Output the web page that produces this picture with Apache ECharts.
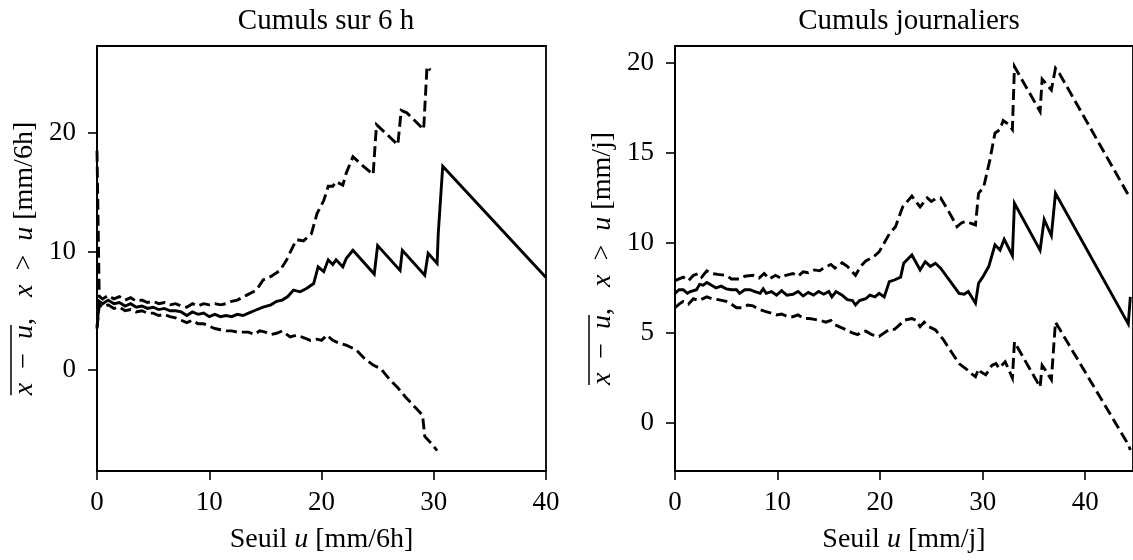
<!DOCTYPE html>
<html>
<head>
<meta charset="utf-8">
<script src="https://cdn.jsdelivr.net/npm/echarts@6/dist/echarts.min.js"></script>
<style>
html,body{margin:0;padding:0;background:#fff;}
#chart{width:1133px;height:560px;}
</style>
</head>
<body>
<div id="chart"></div>
<script>
// ---- Data: Cumuls sur 6 h (threshold u, mean excess) ----
const sixhMean = [[0,3.6],[0.2,5.8],[0.5,5.6],[1,5.9],[1.5,5.6],[2,5.7],[2.5,5.4],[3,5.6],[3.5,5.3],[4,5.4],[4.5,5.2],[5,5.3],[5.5,5.1],[6,5.2],[6.5,5.0],[7,5.0],[7.5,4.9],[8,4.6],[8.5,4.9],[9,4.7],[9.5,4.8],[10,4.5],[10.5,4.7],[11,4.5],[11.5,4.6],[12,4.5],[12.5,4.7],[13,4.6],[13.5,4.8],[14,5.0],[14.8,5.3],[15.5,5.5],[16,5.8],[16.5,5.9],[17,6.2],[17.5,6.75],[18.1,6.6],[18.7,6.9],[19.3,7.3],[19.7,8.7],[20.2,8.3],[20.6,9.3],[21,8.9],[21.3,9.3],[21.9,8.7],[22.2,9.4],[22.8,10.1],[24.7,8.1],[25,10.5],[27,8.4],[27.2,10.1],[29.2,8.0],[29.5,9.85],[30.3,9.0],[30.4,11.5],[30.8,17.2],[40,7.8]];
const sixhUpper = [[0,18.5],[0.2,6.2],[0.5,6.0],[1,6.3],[1.5,6.0],[2,6.2],[2.5,5.9],[3,6.1],[3.5,5.8],[4,5.9],[4.5,5.7],[5,5.8],[5.5,5.6],[6,5.7],[6.5,5.5],[7,5.6],[7.5,5.4],[8,5.3],[8.5,5.6],[9,5.4],[9.5,5.6],[10,5.5],[10.5,5.6],[11,5.5],[11.5,5.6],[12,5.8],[12.5,5.9],[13.3,6.3],[14.2,6.75],[14.8,7.6],[15.5,7.9],[16.3,8.4],[16.9,9.3],[17.5,10.5],[17.8,11.0],[18.4,10.9],[19.1,11.5],[19.6,13.2],[20.2,14.3],[20.6,15.5],[21,15.5],[21.3,15.9],[21.9,15.6],[22.2,16.6],[22.8,18.0],[23.6,17.3],[24.6,16.5],[24.9,20.7],[25.7,20.0],[26.8,19.0],[27.1,21.9],[27.6,21.7],[29.1,20.3],[29.4,25.6],[29.7,25.3]];
const sixhLower = [[0,3.5],[0.2,5.5],[0.5,5.3],[1,5.5],[1.5,5.2],[2,5.3],[2.5,5.0],[3,5.1],[3.5,4.9],[4,5.0],[4.5,4.8],[5,4.8],[5.5,4.6],[6,4.7],[6.5,4.5],[7,4.4],[7.5,4.2],[8,4.0],[8.5,4.2],[9,3.9],[9.5,3.9],[10,3.7],[10.5,3.5],[11,3.4],[11.5,3.3],[12,3.3],[12.5,3.2],[13,3.2],[13.5,3.2],[14,3.0],[14.5,3.3],[15,3.2],[15.5,3.0],[16,3.1],[16.5,3.3],[17.2,2.8],[17.8,2.95],[18.5,2.7],[19,2.5],[19.6,2.6],[20,2.5],[20.5,2.95],[21,2.5],[21.6,2.25],[22.2,2.1],[23.1,1.7],[23.8,1.0],[24.6,0.42],[25.3,0.1],[26.1,-0.84],[26.8,-1.5],[27.5,-2.3],[28.2,-3.0],[29,-3.8],[29.2,-5.6],[29.6,-6.0],[30.3,-6.8]];

// ---- Data: Cumuls journaliers ----
const dayMean = [[0,7.2],[0.4,7.4],[0.8,7.4],[1.2,7.2],[1.5,7.3],[2.1,7.4],[2.4,7.7],[2.75,7.65],[3.1,7.8],[3.4,7.7],[4,7.5],[4.5,7.6],[5,7.45],[5.5,7.4],[6,7.4],[6.3,7.2],[6.8,7.4],[7.3,7.4],[7.8,7.3],[8.3,7.2],[8.6,7.45],[8.9,7.2],[9.4,7.3],[9.9,7.1],[10.4,7.35],[10.9,7.1],[11.5,7.15],[12,7.3],[12.5,7.05],[13,7.25],[13.5,7.1],[14,7.3],[14.5,7.15],[15,7.3],[15.3,7.0],[15.7,7.3],[16.3,7.1],[16.8,6.85],[17.3,6.8],[17.6,6.55],[18,6.8],[18.6,6.9],[19,7.1],[19.5,7.0],[19.9,7.2],[20.4,7.0],[20.9,7.85],[21.4,7.94],[22,8.1],[22.3,8.87],[23.1,9.33],[23.9,8.5],[24.4,8.96],[24.9,8.7],[25.4,8.87],[25.9,8.6],[27.7,7.2],[28.2,7.15],[28.6,7.3],[29.3,6.65],[29.6,7.76],[30,8.1],[30.6,8.7],[31.2,9.9],[31.7,9.6],[32.1,10.2],[32.9,9.3],[33.1,12.2],[35.6,9.6],[36,11.3],[36.7,10.4],[37.1,12.76],[44.2,5.5],[44.4,7.0]];
const dayUpper = [[0,7.9],[0.4,8.0],[0.8,8.1],[1.3,7.9],[1.8,8.2],[2.3,8.3],[2.6,8.1],[3.1,8.45],[3.6,8.3],[4.2,8.25],[5,8.2],[5.5,8.0],[6.3,8.0],[6.8,8.15],[7.6,8.2],[8.2,8.05],[8.7,8.3],[9.2,8.0],[9.8,8.2],[10.3,8.05],[10.8,8.2],[11.5,8.3],[12,8.15],[12.5,8.4],[13,8.35],[13.6,8.5],[14.1,8.45],[14.6,8.65],[15.2,8.8],[15.6,8.6],[16.3,8.9],[16.8,8.7],[17.6,8.2],[18.1,8.7],[18.6,9.0],[19.3,9.2],[19.9,9.5],[20.4,10.0],[20.9,10.5],[21.5,10.9],[22.2,12.0],[23.1,12.6],[23.9,12.0],[24.6,12.5],[25,12.3],[25.4,12.45],[25.9,12.5],[26.7,11.74],[27.5,10.9],[27.9,11.1],[28.3,11.2],[28.8,11.1],[29.3,11.0],[29.6,12.76],[30.1,13.1],[30.7,14.6],[31.2,16.1],[31.7,16.3],[32,16.8],[32.5,16.6],[32.9,16.3],[33.1,19.8],[33.5,19.4],[35.6,17.3],[35.8,19.1],[36.7,18.5],[37.1,19.7],[37.5,19.4],[44.2,12.67]];
const dayLower = [[0,6.4],[0.4,6.6],[0.8,6.75],[1.3,6.6],[1.8,6.9],[2.3,6.8],[3.1,7.0],[3.6,6.9],[4.2,6.85],[5,6.75],[5.5,6.6],[6,6.4],[6.6,6.4],[7.1,6.55],[7.6,6.5],[8.25,6.3],[8.8,6.2],[9.4,6.1],[9.9,6.0],[10.4,6.05],[11,5.9],[11.5,5.9],[12,6.0],[12.6,5.8],[13.1,5.8],[13.6,5.75],[14.1,5.7],[14.7,5.6],[15.2,5.7],[15.6,5.45],[16,5.35],[16.6,5.2],[17.3,5.0],[17.8,4.9],[18.2,5.05],[18.6,5.1],[19.2,4.9],[19.9,4.8],[20.4,5.0],[20.9,5.2],[21.4,5.2],[22,5.5],[22.3,5.7],[23.1,5.8],[23.5,5.7],[23.9,5.35],[24.3,5.6],[24.75,5.35],[25.4,5.17],[26.2,4.6],[27,3.9],[27.7,3.3],[28.5,2.95],[29,2.7],[29.3,2.57],[29.6,3.0],[29.8,2.85],[30.3,2.67],[30.9,3.2],[31.3,3.3],[31.6,3.04],[32.2,3.4],[32.9,2.5],[33.1,4.5],[35.6,2.0],[35.8,3.2],[36,3.04],[36.7,2.4],[37.1,5.6],[44.2,-1.2],[44.4,-1.5]];

// ---- Tick labels / texts ----
const xTicks = [0, 10, 20, 30, 40];
const sixhYTicks = [0, 10, 20];
const dayYTicks = [0, 5, 10, 15, 20];
const titles = ['Cumuls sur 6 h', 'Cumuls journaliers'];
const units = ['mm/6h', 'mm/j'];

const FONT = '"Liberation Serif", "DejaVu Serif", serif';
const FS = 27;      // tick labels
const FN = 28;      // axis names
const FT = 29;      // titles
const italic = {i: {fontStyle: 'italic', fontFamily: FONT, fontSize: FN, color: '#000'}};

// y-label pieces: "x − u,  x > u [unit]" (overline drawn over the first part)
const EN = '\u2002', QS = '\u2005';
function yLabelFrags(unit) {
  return [
    ['x', true], [EN + '\u2212' + EN, false], ['u', true],
    [', ' + EN, false],
    ['x', true], [EN + '>' + EN, false], ['u', true],
    [' [' + unit + ']', false]
  ];
}
function yLabelRich(unit) {
  return yLabelFrags(unit).map(f => f[1] ? '{i|' + f[0] + '}' : f[0]).join('');
}
const mctx = document.createElement('canvas').getContext('2d');
function fragWidth(f) {
  mctx.font = (f[1] ? 'italic ' : '') + FN + 'px ' + FONT;
  return mctx.measureText(f[0]).width;
}

const G = [
  {left: 97, top: 46, width: 449, height: 425},
  {left: 675, top: 46, width: 460, height: 425}
];

function xAxis(gi, max, unit) {
  return {
    gridIndex: gi, type: 'value', min: 0, max: max,
    axisLine: {show: true, onZero: false, lineStyle: {color: '#000', width: 1.8}},
    axisTick: {show: true, length: 9, lineStyle: {color: '#000', width: 1.6}, customValues: xTicks},
    axisLabel: {color: '#000', fontFamily: FONT, fontSize: FS, margin: 18, customValues: xTicks},
    splitLine: {show: false},
    name: 'Seuil {i|u} [' + unit + ']', nameLocation: 'middle', nameGap: 55,
    nameTextStyle: {color: '#000', fontFamily: FONT, fontSize: FN, rich: italic}
  };
}
function yAxis(gi, min, max, ticks, unit) {
  return {
    gridIndex: gi, type: 'value', min: min, max: max,
    axisLine: {show: true, onZero: false, lineStyle: {color: '#000', width: 1.8}},
    axisTick: {show: true, length: 9, lineStyle: {color: '#000', width: 1.6}, customValues: ticks},
    axisLabel: {color: '#000', fontFamily: FONT, fontSize: FS, margin: 21, customValues: ticks},
    splitLine: {show: false},
    name: yLabelRich(unit),
    nameLocation: 'middle', nameGap: 58, nameRotate: 90,
    nameTextStyle: {color: '#000', fontFamily: FONT, fontSize: FN, rich: italic}
  };
}
function line(gi, data, dashed) {
  return {
    type: 'line', xAxisIndex: gi, yAxisIndex: gi, data: data,
    showSymbol: false, symbol: 'none', animation: false, clip: true,
    lineStyle: {color: '#000', width: 2.9, type: dashed ? [11, 5] : 'solid', cap: 'butt', join: 'miter'}
  };
}
function overline(gi, unit) {
  const frags = yLabelFrags(unit);
  const widths = frags.map(fragWidth);
  const total = widths.reduce((a, b) => a + b, 0);
  const w1 = widths[0] + widths[1] + widths[2];
  const midY = G[gi].top + G[gi].height / 2;
  const yStart = midY + total / 2;
  const x = G[gi].left - 86;
  return {type: 'line', silent: true, z: 10,
    shape: {x1: x, y1: yStart, x2: x, y2: yStart - w1},
    style: {stroke: '#000', lineWidth: 1.5}};
}

const chart = echarts.init(document.getElementById('chart'), null, {renderer: 'canvas'});
chart.setOption({
  backgroundColor: '#fff',
  animation: false,
  title: [
    {text: titles[0], left: 321, top: 2, textAlign: 'center', textStyle: {fontFamily: FONT, fontSize: FT, fontWeight: 'normal', color: '#000'}},
    {text: titles[1], left: 904, top: 2, textAlign: 'center', textStyle: {fontFamily: FONT, fontSize: FT, fontWeight: 'normal', color: '#000'}}
  ],
  grid: G.map(g => Object.assign({show: true, borderColor: '#000', borderWidth: 1.8, backgroundColor: 'transparent'}, g)),
  xAxis: [xAxis(0, 40, units[0]), xAxis(1, 44.66, units[1])],
  yAxis: [yAxis(0, -8.52, 27.34, sixhYTicks, units[0]), yAxis(1, -2.67, 20.94, dayYTicks, units[1])],
  graphic: [overline(0, units[0]), overline(1, units[1])],
  series: [
    line(0, sixhMean, false), line(0, sixhUpper, true), line(0, sixhLower, true),
    line(1, dayMean, false), line(1, dayUpper, true), line(1, dayLower, true)
  ]
});
</script>
</body>
</html>
